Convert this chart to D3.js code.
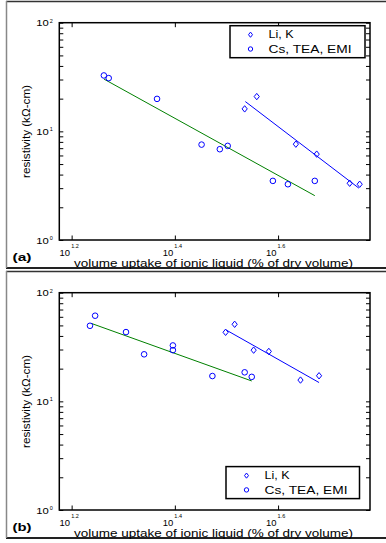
<!DOCTYPE html>
<html>
<head>
<meta charset="utf-8">
<script src="https://cdn.jsdelivr.net/npm/d3@7"></script>
<style>
  body { margin: 0; background: #fff; }
  svg text { font-family: "Liberation Sans", Arial, sans-serif; fill: #000; }
</style>
</head>
<body>
<svg id="fig" width="386" height="543"></svg>
<script>
// panel (a)
var upA_circ  = [18.3, 18.7, 23.2, 28.3, 30.7, 31.8, 38.9, 41.6, 46.9];
var resA_circ = [32.7, 30.9, 19.9, 7.55, 6.85, 7.35, 3.50, 3.26, 3.50];
var upA_diam  = [34.3, 36.2, 43.1, 47.3, 54.8, 57.3];
var resA_diam = [16.1, 20.9, 7.62, 6.17, 3.33, 3.26];
var fitA_circ = [[18.3, 30.3], [46.9, 2.56]];
var fitA_diam = [[34.4, 18.8], [57.1, 3.0]];

// panel (b)
var upB_circ  = [17.2, 17.6, 20.2, 21.9, 24.9, 24.9, 29.7, 34.3, 35.4];
var resB_circ = [49.6, 61.4, 43.4, 27.1, 32.7, 29.6, 17.1, 18.5, 16.8];
var upB_diam  = [31.5, 32.8, 35.7, 38.2, 44.0, 47.8];
var resB_diam = [43.2, 51.2, 29.6, 28.8, 15.7, 17.2];
var fitB_circ = [[17.3, 52.2], [35.4, 15.4]];
var fitB_diam = [[31.6, 45.3], [47.8, 14.9]];

var xTickExp = ["1.2", "1.4", "1.6"];
var yTickExp = ["0", "1", "2"];
var legendNames = ["Li, K", "Cs, TEA, EMI"];

var svg = d3.select("#fig");
var x = d3.scaleLog().domain([15, 60]).range([59.3, 370]);
var y = d3.scaleLog().domain([1, 100]).range([240, 22.7]);
var yMinor = [];
[1, 10].forEach(function(b) { for (var k = 2; k <= 9; k++) yMinor.push(b*k); });

function diamond(cx, cy, w, h) {
    return "M" + cx + "," + (cy-h) + "L" + (cx+w) + "," + cy + "L" + cx + "," + (cy+h) + "L" + (cx-w) + "," + cy + "Z";
}

function panel(off, label, cx, cy, dx, dy, fitC, fitD, leg) {
    var g = svg.append("g").attr("transform", "translate(0," + off + ")");

    // figure frame
    g.append("line").attr("x1", 6).attr("x2", 386).attr("y1", 1.5).attr("y2", 1.5)
        .attr("stroke", "#333").attr("stroke-width", 1.5);
    g.append("line").attr("x1", 6).attr("x2", 386).attr("y1", 268).attr("y2", 268)
        .attr("stroke", "#222").attr("stroke-width", 1.8);
    g.append("line").attr("x1", 6.5).attr("x2", 6.5).attr("y1", 1).attr("y2", 268)
        .attr("stroke", "#888").attr("stroke-width", 1.5);

    // ticks via d3 axes
    var xv = xTickExp.map(e => Math.pow(10, +e));
    var yv = [1, 10, 100].concat(yMinor);
    g.append("g").attr("transform", "translate(0,240)")
        .call(d3.axisBottom(x).tickValues(xv).tickSizeInner(-4.5).tickSizeOuter(0).tickFormat(""));
    g.append("g").attr("transform", "translate(0,22.7)")
        .call(d3.axisTop(x).tickValues(xv).tickSizeInner(-4.5).tickSizeOuter(0).tickFormat(""));
    g.append("g").attr("transform", "translate(59.3,0)")
        .call(d3.axisLeft(y).tickValues(yv).tickSizeInner(-4).tickSizeOuter(0).tickFormat(""));
    g.append("g").attr("transform", "translate(370,0)")
        .call(d3.axisRight(y).tickValues(yv).tickSizeInner(-4).tickSizeOuter(0).tickFormat(""));
    g.selectAll(".domain").remove();
    g.selectAll(".tick line").attr("stroke", "#000").attr("stroke-width", 1);

    g.append("rect").attr("x", 59.3).attr("y", 22.7).attr("width", 370-59.3).attr("height", 240-22.7)
        .attr("fill", "none").attr("stroke", "#000").attr("stroke-width", 1.5);

    // x tick labels
    xTickExp.forEach(function(e) {
        var px = x(Math.pow(10, +e));
        g.append("text").attr("x", px-1.5).attr("y", 255.8).attr("text-anchor", "end")
            .attr("font-size", 9).attr("textLength", 10.5).attr("lengthAdjust", "spacingAndGlyphs").text("10");
        g.append("text").attr("x", px-0.5).attr("y", 248)
            .attr("font-size", 5.5).text(e);
    });
    // y tick labels
    yTickExp.forEach(function(e) {
        var py = y(Math.pow(10, +e));
        g.append("text").attr("x", 48.7).attr("y", py+3.5).attr("text-anchor", "end")
            .attr("font-size", 9).attr("textLength", 12.5).attr("lengthAdjust", "spacingAndGlyphs").text("10");
        g.append("text").attr("x", 49.8).attr("y", py)
            .attr("font-size", 5.5).text(e);
    });

    // axis labels
    g.append("text").attr("x", 74).attr("y", 267.2)
        .attr("font-size", 10.5).attr("textLength", 279).attr("lengthAdjust", "spacingAndGlyphs")
        .text("volume uptake of ionic liquid (% of dry volume)");
    g.append("text").attr("transform", "translate(29.5,178) rotate(-90)")
        .attr("font-size", 10.5).attr("textLength", 93).attr("lengthAdjust", "spacingAndGlyphs")
        .text("resistivity (k\u03A9-cm)");
    g.append("text").attr("x", 12.5).attr("y", 260.5).attr("font-weight", "bold")
        .attr("font-size", 11).attr("textLength", 19).attr("lengthAdjust", "spacingAndGlyphs").text(label);

    // fit lines
    var ln = d3.line().x(d => x(d[0])).y(d => y(d[1]));
    g.append("path").attr("d", ln(fitC)).attr("stroke", "#008000").attr("fill", "none").attr("stroke-width", 1);
    g.append("path").attr("d", ln(fitD)).attr("stroke", "#0000ff").attr("fill", "none").attr("stroke-width", 1);

    // markers
    g.selectAll("circle.pt").data(cx).enter()
        .append("circle").attr("class", "pt").attr("r", 2.8)
        .attr("cx", d => x(d)).attr("cy", (d, i) => y(cy[i]))
        .attr("fill", "none").attr("stroke", "#0000ff").attr("stroke-width", 1);
    g.selectAll("path.dm").data(dx).enter()
        .append("path").attr("class", "dm")
        .attr("d", (d, i) => diamond(x(d), y(dy[i]), 2.6, 3.2))
        .attr("fill", "none").attr("stroke", "#0000ff").attr("stroke-width", 1);

    // legend
    var lg = g.append("g").attr("transform", "translate(" + leg[0] + "," + leg[1] + ")");
    lg.append("rect").attr("x", 0).attr("y", 0).attr("width", leg[2]).attr("height", 32)
        .attr("fill", "#fff").attr("stroke", "#000").attr("stroke-width", 1.5);
    lg.append("path").attr("d", diamond(20.5, 9, 2, 2.6))
        .attr("fill", "none").attr("stroke", "#0000ff").attr("stroke-width", 1);
    lg.append("circle").attr("cx", 20.5).attr("cy", 23.3).attr("r", 2.2)
        .attr("fill", "none").attr("stroke", "#0000ff").attr("stroke-width", 1);
    lg.append("text").attr("x", 38.5).attr("y", 12.6).attr("font-size", 10)
        .attr("textLength", 25).attr("lengthAdjust", "spacingAndGlyphs").text(legendNames[0]);
    lg.append("text").attr("x", 38.5).attr("y", 27).attr("font-size", 10)
        .attr("textLength", 83).attr("lengthAdjust", "spacingAndGlyphs").text(legendNames[1]);
}

panel(0, "(a)", upA_circ, resA_circ, upA_diam, resA_diam, fitA_circ, fitA_diam, [230, 25.7, 135]);
panel(270, "(b)", upB_circ, resB_circ, upB_diam, resB_diam, fitB_circ, fitB_diam, [226, 196.6, 133.5]);
</script>
</body>
</html>
